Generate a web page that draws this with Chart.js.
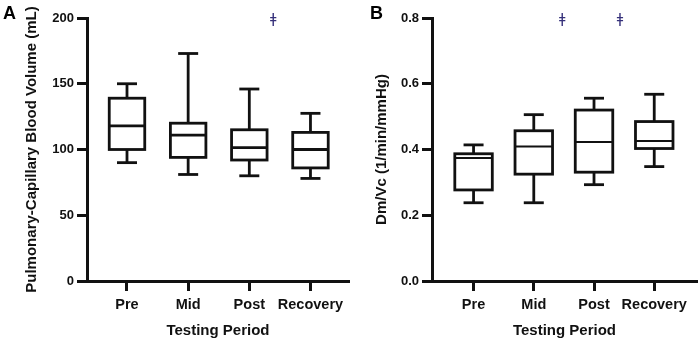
<!DOCTYPE html>
<html><head><meta charset="utf-8">
<script src="https://cdn.jsdelivr.net/npm/chart.js@4.4.1/dist/chart.umd.min.js"></script>
<style>
html,body{margin:0;padding:0;background:#fff;}
#wrap{position:relative;width:699px;height:340px;overflow:hidden;}
#ca{position:absolute;left:0;top:0;}
#cb{position:absolute;left:350px;top:0;}
</style></head><body>
<div id="wrap"><canvas id="ca" width="350" height="340"></canvas><canvas id="cb" width="349" height="340"></canvas></div>
<script>
const categories = ['Pre', 'Mid', 'Post', 'Recovery'];

// Panel A: Pulmonary-capillary blood volume (mL)
const pcbvMin    = [90, 81, 80, 78];
const pcbvQ1     = [100, 94, 92, 86];
const pcbvMedian = [118, 111, 101.5, 100];
const pcbvQ3     = [139, 120, 115, 113];
const pcbvMax    = [150, 173, 146, 127.5];
const pcbvTicks  = [0, 50, 100, 150, 200];
const pcbvMarkers = [{ x: 2.39, y: 200 }];

// Panel B: Dm/Vc (1/min/mmHg)
const dmvcMin    = [0.238, 0.238, 0.293, 0.348];
const dmvcQ1     = [0.277, 0.325, 0.331, 0.403];
const dmvcMedian = [0.374, 0.409, 0.423, 0.426];
const dmvcQ3     = [0.387, 0.457, 0.520, 0.485];
const dmvcMax    = [0.414, 0.506, 0.556, 0.568];
const dmvcTicks  = [0, 0.2, 0.4, 0.6, 0.8];
const dmvcMarkers = [{ x: 1.47, y: 0.8 }, { x: 2.43, y: 0.8 }];

const INK = '#111';
const FAM = '"Liberation Sans", Arial, sans-serif';

const boxPlugin = {
  id: 'boxExtras',
  afterDatasetsDraw(chart, args, o) {
    const { ctx, scales: { x, y } } = chart;
    const meta = chart.getDatasetMeta(0);
    const line = (x1, y1, x2, y2) => { ctx.beginPath(); ctx.moveTo(x1, y1); ctx.lineTo(x2, y2); ctx.stroke(); };
    ctx.save();
    ctx.strokeStyle = INK;
    ctx.lineCap = 'butt';
    meta.data.forEach((bar, i) => {
      const cx = x.getPixelForValue(i);
      const yMin = y.getPixelForValue(o.min[i]);
      const yQ1 = y.getPixelForValue(o.q1[i]);
      const yQ3 = y.getPixelForValue(o.q3[i]);
      const yMax = y.getPixelForValue(o.max[i]);
      const yMed = y.getPixelForValue(o.median[i]);
      const half = bar.width / 2;
      ctx.lineWidth = o.lineWidth;
      line(cx, yQ3, cx, yMax);
      line(cx, yQ1, cx, yMin);
      line(cx - o.cap / 2, yMax, cx + o.cap / 2, yMax);
      line(cx - o.cap / 2, yMin, cx + o.cap / 2, yMin);
      ctx.strokeRect(cx - half, yQ3, bar.width, yQ1 - yQ3);
      ctx.lineWidth = o.medianWidth;
      line(cx - half, yMed, cx + half, yMed);
    });
    ctx.fillStyle = '#35307a';
    ctx.font = '14px "DejaVu Sans"';
    ctx.textAlign = 'center';
    ctx.textBaseline = 'middle';
    o.markers.forEach(m => ctx.fillText('ǂ', x.getPixelForValue(m.x), y.getPixelForValue(m.y) + 1));
    ctx.fillStyle = '#000';
    ctx.font = 'bold 18px ' + FAM;
    ctx.textAlign = 'left';
    ctx.textBaseline = 'alphabetic';
    ctx.fillText(o.letter, o.letterX, o.letterY);
    ctx.restore();
  }
};

function makeChart(el, cfg) {
  const xTickFont = { family: FAM, size: 14.5, weight: 'bold' };
  const yTickFont = { family: FAM, size: 13, weight: 'bold' };
  const titleFont = { family: FAM, size: 15, weight: 'bold' };
  return new Chart(el, {
    type: 'bar',
    data: {
      datasets: [{
        data: categories.map((c, i) => ({ x: i, y: [cfg.q1[i], cfg.q3[i]] })),
        backgroundColor: '#fff',
        borderWidth: 0,
        barThickness: cfg.barThickness
      }]
    },
    options: {
      responsive: false,
      animation: false,
      layout: { padding: { left: 0, right: cfg.padRight, top: 18, bottom: 0 } },
      plugins: {
        legend: { display: false },
        tooltip: { enabled: false },
        boxExtras: {
          min: cfg.min, q1: cfg.q1, median: cfg.median, q3: cfg.q3, max: cfg.max,
          cap: 20, lineWidth: 2.8, medianWidth: cfg.medianWidth,
          markers: cfg.markers, letter: cfg.letter, letterX: cfg.letterX, letterY: 18.5
        }
      },
      scales: {
        x: {
          type: 'linear', min: cfg.xMin, max: cfg.xMax, offset: false,
          afterBuildTicks: s => { s.ticks = categories.map((c, i) => ({ value: i })); },
          afterFit: s => { s.height = 59; },
          border: { display: true, color: INK, width: 3 },
          grid: { display: true, offset: false, drawOnChartArea: false, drawTicks: true, tickLength: 10, tickWidth: 3, tickColor: INK, color: INK },
          ticks: { callback: v => categories[v] ?? '', font: xTickFont, color: INK, padding: 5, maxRotation: 0, autoSkip: false },
          title: { display: true, text: 'Testing Period', font: titleFont, color: INK, padding: { top: 0, bottom: 0 } }
        },
        y: {
          min: 0, max: cfg.yMax,
          afterBuildTicks: s => { s.ticks = cfg.ticks.map(v => ({ value: v })); },
          afterFit: s => { s.width = cfg.yWidth; },
          border: { display: true, color: INK, width: 3 },
          grid: { display: true, drawOnChartArea: false, drawTicks: true, tickLength: 10, tickWidth: 3, tickColor: INK, color: INK },
          ticks: { callback: cfg.fmt, font: yTickFont, color: INK, padding: 3 },
          title: { display: true, text: cfg.yTitle, font: titleFont, color: INK, padding: { top: 23, bottom: 0 } }
        }
      }
    },
    plugins: [boxPlugin]
  });
}

makeChart(document.getElementById('ca'), {
  min: pcbvMin, q1: pcbvQ1, median: pcbvMedian, q3: pcbvQ3, max: pcbvMax,
  ticks: pcbvTicks, yMax: 200, fmt: v => String(v), markers: pcbvMarkers,
  yTitle: 'Pulmonary-Capillary Blood Volume (mL)',
  xMin: -0.654, xMax: 3.63, yWidth: 87, padRight: 1, barThickness: 35.5, medianWidth: 2.8,
  letter: 'A', letterX: 3
});
makeChart(document.getElementById('cb'), {
  min: dmvcMin, q1: dmvcQ1, median: dmvcMedian, q3: dmvcQ3, max: dmvcMax,
  ticks: dmvcTicks, yMax: 0.8, fmt: v => v.toFixed(1), markers: dmvcMarkers,
  yTitle: 'Dm/Vc (1/min/mmHg)',
  xMin: -0.69, xMax: 3.71, yWidth: 82, padRight: 2, barThickness: 37.5, medianWidth: 2,
  letter: 'B', letterX: 20
});
</script>
</body></html>
